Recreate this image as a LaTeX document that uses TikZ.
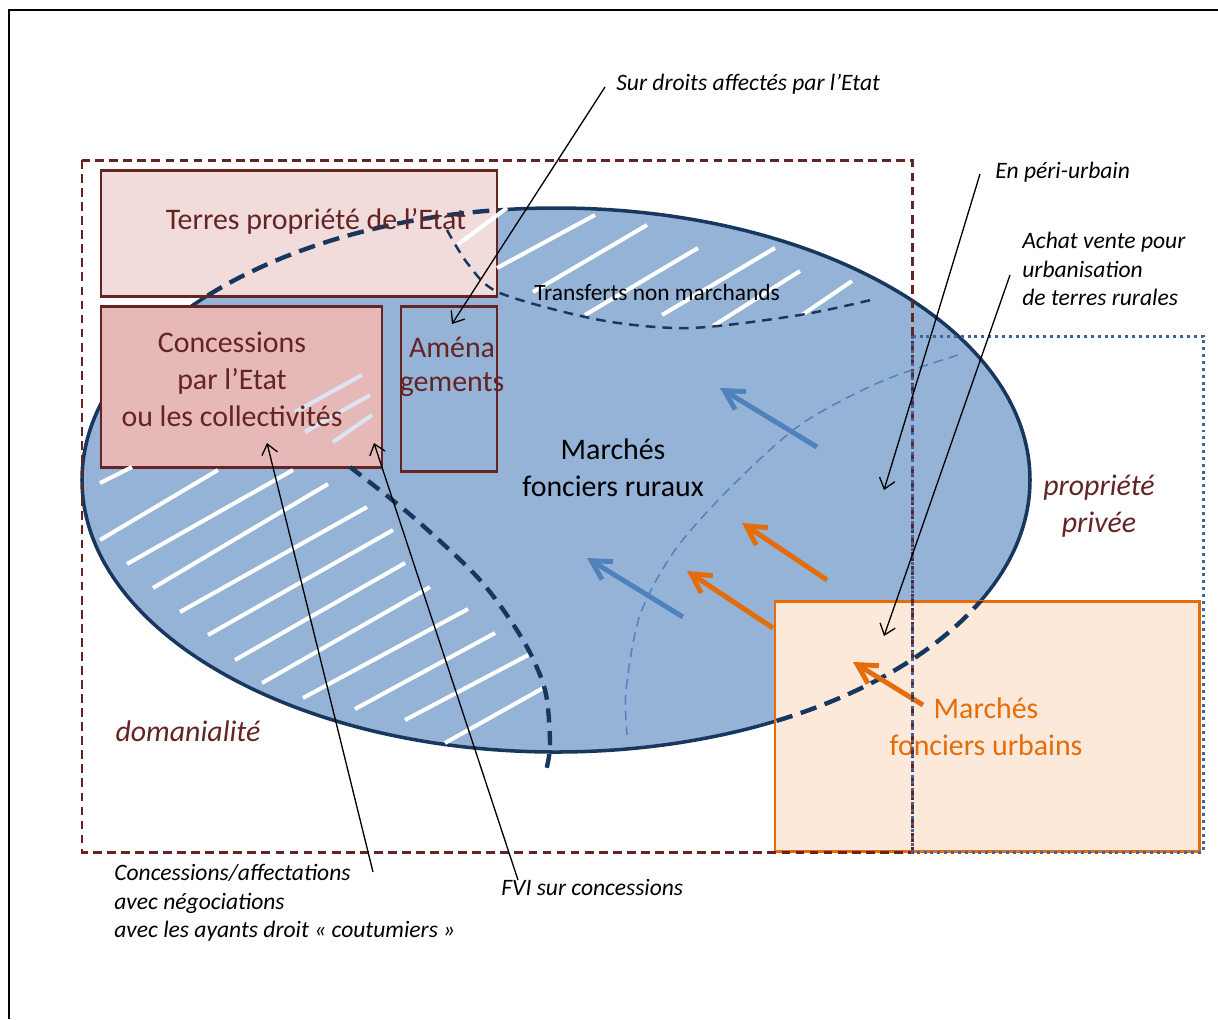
\documentclass[tikz,border=0pt]{standalone}
\usepackage{fontspec}
\setmainfont{Carlito}
\usetikzlibrary{arrows.meta}

\definecolor{navy}{RGB}{23,55,94}
\definecolor{ellfill}{RGB}{149,179,215}
\definecolor{maroon}{RGB}{99,36,35}
\definecolor{pinklight}{RGB}{242,220,219}
\definecolor{pinkdark}{RGB}{230,185,184}
\definecolor{accblue}{RGB}{79,129,189}
\definecolor{dotblue}{RGB}{60,100,160}
\definecolor{orng}{RGB}{228,108,10}
\definecolor{orngfill}{RGB}{253,233,217}
\definecolor{faint}{RGB}{219,229,241}

\tikzset{
  bigtxt/.style={font=\fontsize{17}{21}\selectfont, align=center},
  bigit/.style={font=\fontsize{17}{21}\selectfont\itshape, align=center, text=maroon},
  smalltxt/.style={font=\fontsize{13.4}{16.2}\selectfont\itshape, align=left},
  box/.style={draw=maroon, line width=1.7pt},
  hatch/.style={white, line width=2.3pt},
  annot/.style={black, line width=0.75pt, -{Straight Barb[length=2mm,width=3.2mm]}},
  flow/.style={line width=2.8pt, -{Straight Barb[length=3.8mm,width=4.2mm]}},
}

\begin{document}
\begin{tikzpicture}[x=0.02cm, y=-0.02cm, every node/.style={inner sep=0pt}]
\useasboundingbox (0,0) rectangle (1218,1019);

\coordinate (O) at (556,480);
\coordinate (s0) at (605,87);   \coordinate (s1) at (452,324);
\coordinate (p0) at (980,174);  \coordinate (p1) at (884,490);
\coordinate (a0) at (1010,275); \coordinate (a1) at (884,636);
\coordinate (c0) at (373,872);  \coordinate (c1) at (267,443);
\coordinate (f0) at (518,880);  \coordinate (f1) at (374,443);

\draw[line width=1.4pt] (9,1019) -- (9,10) -- (1218,10);

\fill[ellfill] (O) ellipse [x radius=474, y radius=272];
\draw[navy, line width=2pt] (O) ellipse [x radius=474, y radius=272];

\draw[box, fill=pinklight] (101,170) rectangle (497,296);
\draw[box, fill=pinkdark] (101,306) rectangle (382,467);
\draw[box] (401,306) rectangle (497,471);
\draw[orng, fill=orngfill, line width=1.7pt] (775,601) rectangle (1199,851);

\begin{scope}
  \clip (101,170) rectangle (497,296) (775,601) rectangle (1199,851);
  \draw[navy, line width=2.5pt, dash pattern=on 9.5pt off 5pt] (O) ellipse [x radius=474, y radius=272];
\end{scope}

\foreach \xa/\ya/\xb/\yb in {100/483/132/467, 100/540/218/470, 127/564/293/470,
    153/588/328/484, 180/612/367/507, 208/635/393/530, 235/660/405/563,
    262/683/430/587, 303/698/468/609, 355/709/495/633, 405/720/532/653,
    445/743/545/687,
    457/245/507/208, 497/268/595/215, 533/292/647/225, 585/315/698/248,
    662/315/775/248, 713/326/800/271, 802/315/852/281}
  \draw[hatch] (\xa,\ya) -- (\xb,\yb);
\foreach \xa/\ya/\xb/\yb in {295/412/362/375, 305/432/370/395, 333/442/372/415}
  \draw[faint, line width=2.3pt] (\xa,\ya) -- (\xb,\yb);

\draw[navy, line width=1.4pt, dash pattern=on 5.5pt off 4pt]
  plot[smooth] coordinates {(447,230) (468,264) (500,293) (600,320) (690,328) (800,315) (875,299)};
\draw[navy, line width=2.5pt, dash pattern=on 8pt off 5pt]
  plot[smooth] coordinates {(350,467) (413,517) (480,580) (523,640) (545,690) (550,745) (545,775)};
\draw[accblue, line width=0.85pt, dash pattern=on 5.5pt off 3.5pt]
  plot[smooth] coordinates {(958,355) (880,382) (800,425) (730,488) (675,550) (640,615) (626,690) (627,735)};

\node[bigtxt, text=maroon] (terres) at (316,221) {Terres propriété de l’Etat};
\node[bigtxt, text=maroon] (conc) at (232,379) {Concessions\\par l’Etat\\ou les collectivités};
\node[bigtxt, text=maroon, font=\fontsize{17}{19.5}\selectfont] (amen) at (452,367) {Aména\\gements};
\node[bigtxt] (rural) at (613,468) {Marchés\\fonciers ruraux};
\node[font=\fontsize{13.3}{16}\selectfont] (transf) at (657,292) {Transferts non marchands};
\node[bigit] (doma) at (188,731) {domanialité};
\node[bigit] (priv) at (1099,506) {propriété\\privée};
\node[bigtxt, text=orng] (urb) at (986,727) {Marchés\\fonciers urbains};

\draw[flow, accblue] (817,447) -- (720,388);
\draw[flow, accblue] (683,617) -- (587,558);
\draw[flow, orng] (827,580) -- (742,523);
\draw[flow, orng] (773,628) -- (687,571);
\draw[flow, orng] (923,705) -- (853,662);

\draw[maroon, line width=1.7pt, dash pattern=on 5pt off 3pt] (82,160) rectangle (912,852);
\draw[dotblue, line width=1.7pt, dash pattern=on 1.7pt off 2.2pt] (912,336) rectangle (1203,852);

\node[smalltxt, anchor=west] (surdroits) at (616,84) {Sur droits affectés par l’Etat};
\node[smalltxt, anchor=west] (peri) at (995,172) {En péri-urbain};
\node[smalltxt, anchor=west] (achat) at (1022,269) {Achat vente pour\\urbanisation\\de terres rurales};
\node[smalltxt, anchor=west] (concaff) at (114,903) {Concessions/affectations\\avec négociations\\avec les ayants droit « coutumiers »};
\node[smalltxt, anchor=west] (fvi) at (501,887) {FVI sur concessions};

\draw[annot] (s0) -- (s1);
\draw[annot] (p0) -- (p1);
\draw[annot] (a0) -- (a1);
\draw[annot] (c0) -- (c1);
\draw[annot] (f0) -- (f1);
\end{tikzpicture}
\end{document}
